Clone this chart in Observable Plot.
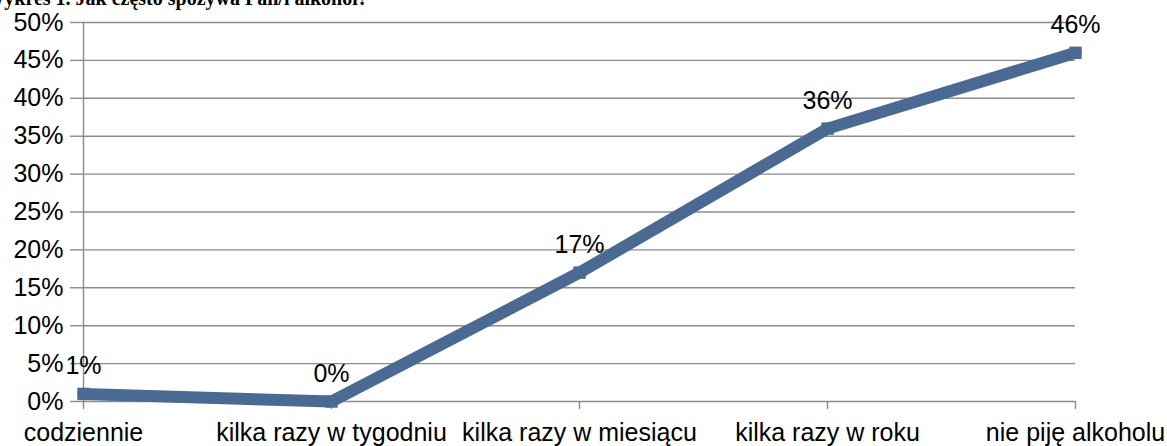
<!DOCTYPE html>
<html>
<head>
<meta charset="utf-8">
<script src="https://cdn.jsdelivr.net/npm/d3@7"></script>
<script src="https://cdn.jsdelivr.net/npm/@observablehq/plot@0.6"></script>
<style>
  html, body { margin: 0; padding: 0; background: #fff; overflow: hidden; }
  #wrap { position: relative; width: 1167px; height: 446px; }
  #title { position: absolute; left: -15px; top: -12px; font-family: "Liberation Serif", "Times New Roman", serif; font-weight: bold; font-size: 20px; line-height: 20px; white-space: nowrap; color: #000; z-index: 2; }
  #chart { position: absolute; left: 0; top: 0; }
</style>
</head>
<body>
<div id="wrap">
  <div id="title">Wykres 1. Jak często spożywa Pan/i alkohol?</div>
  <div id="chart"></div>
</div>
<script>
const categories = ["codziennie", "kilka razy w tygodniu", "kilka razy w miesiącu", "kilka razy w roku", "nie piję alkoholu"];
const values = [1, 0, 17, 36, 46];
const yTicks = [0, 5, 10, 15, 20, 25, 30, 35, 40, 45, 50];

const data = categories.map((c, i) => ({cat: c, v: values[i]}));
const lineColor = "#4a6a94";
const gridColor = "#8c8c8c";

const chart = Plot.plot({
  width: 1167,
  height: 446,
  marginLeft: 82,
  marginRight: 92,
  marginTop: 22,
  marginBottom: 45,
  style: {fontFamily: "'Liberation Sans', Arial, sans-serif", fontSize: "25px", color: "#000", background: "transparent", overflow: "visible"},
  x: {type: "point", domain: categories, padding: 0},
  y: {domain: [0, 50]},
  marks: [
    Plot.ruleY(yTicks, {stroke: gridColor, strokeWidth: 1.4}),
    Plot.ruleX([categories[0]], {y1: 0, y2: 50, stroke: gridColor, strokeWidth: 1.4}),
    Plot.axisY({ticks: yTicks, tickFormat: d => d + "%", tickSize: 12, tickPadding: 7, stroke: gridColor, strokeWidth: 1.4, fill: "#000", fontSize: 25, label: null}),
    Plot.axisX({tickSize: 8, tickPadding: 14, stroke: gridColor, strokeWidth: 1.4, fill: "#000", fontSize: 25, label: null}),
    Plot.line(data, {x: "cat", y: "v", stroke: lineColor, strokeWidth: 12, strokeLinejoin: "miter"}),
    Plot.dot(data, {x: "cat", y: "v", symbol: "square", r: 7, fill: lineColor, stroke: null}),
    Plot.text(data, {x: "cat", y: "v", text: d => d.v + "%", dy: -28, fontSize: 25, fill: "#000"})
  ]
});
document.getElementById("chart").appendChild(chart);
</script>
</body>
</html>
